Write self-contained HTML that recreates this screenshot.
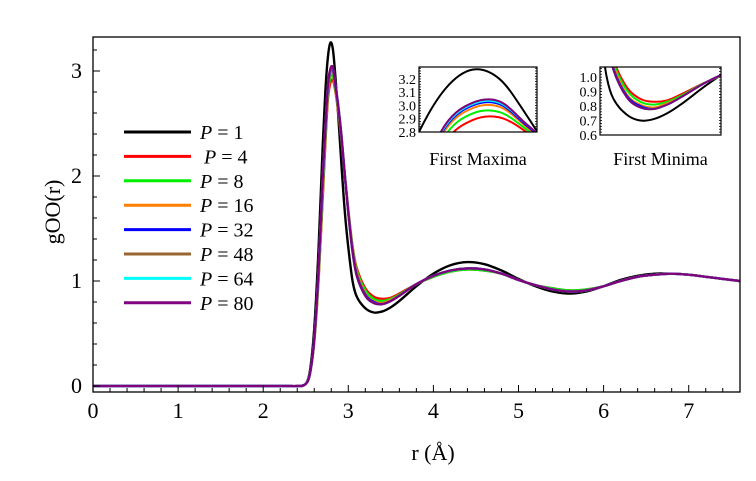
<!DOCTYPE html>
<html><head><meta charset="utf-8"><style>
body{margin:0;background:#fff}
svg text{font-family:"Liberation Serif",serif}
</style></head><body>
<svg id="c" width="756" height="476" xmlns="http://www.w3.org/2000/svg"></svg>
<script>
const rVals=[0,1,2,2.3,2.4,2.5,2.55,2.6,2.65,2.7,2.73,2.76,2.79,2.82,2.85,2.88,2.92,2.96,3.0,3.05,3.1,3.2,3.3,3.4,3.5,3.6,3.8,4.0,4.2,4.4,4.6,4.8,5.0,5.2,5.4,5.6,5.8,6.0,6.2,6.4,6.6,6.8,7.0,7.2,7.4,7.6];
const seriesNames=["P = 1","P = 4","P = 8","P = 16","P = 32","P = 48","P = 64","P = 80"];
const seriesColors=["#000000","#ff0000","#00ee00","#ff8000","#0000ff","#996633","#00ffff","#800080"];
const gP1=[0,0,0,0,0,0.02,0.15,0.55,1.3,2.3,2.8,3.13,3.27,3.20,2.93,2.6,2.1,1.65,1.32,1.0,0.85,0.74,0.70,0.71,0.75,0.81,0.95,1.07,1.15,1.18,1.16,1.10,1.02,0.95,0.90,0.88,0.90,0.95,1.01,1.05,1.07,1.07,1.06,1.04,1.02,1.0];
const gP4=[0,0,0,0,0,0.02,0.12,0.42,1.0,1.8,2.3,2.73,2.89,2.91,2.80,2.62,2.34,2.0,1.68,1.33,1.12,0.93,0.85,0.83,0.84,0.88,0.97,1.04,1.09,1.11,1.10,1.07,1.01,0.96,0.93,0.91,0.92,0.95,1.0,1.04,1.06,1.07,1.06,1.04,1.02,1.0];
const gP8=[0,0,0,0,0,0.02,0.12,0.43,1.02,1.85,2.35,2.78,2.94,2.95,2.82,2.64,2.35,2.0,1.67,1.32,1.1,0.91,0.83,0.81,0.83,0.87,0.97,1.04,1.09,1.11,1.10,1.07,1.01,0.96,0.93,0.91,0.92,0.95,1.0,1.04,1.06,1.07,1.06,1.04,1.02,1.0];
const gP16=[0,0,0,0,0,0.02,0.12,0.44,1.05,1.9,2.4,2.82,2.98,2.99,2.84,2.66,2.36,2.0,1.66,1.3,1.08,0.88,0.81,0.79,0.82,0.86,0.97,1.05,1.10,1.12,1.11,1.07,1.01,0.96,0.92,0.90,0.91,0.95,1.0,1.04,1.06,1.07,1.06,1.04,1.02,1.0];
const gP32=[0,0,0,0,0,0.02,0.12,0.45,1.08,1.95,2.43,2.84,3.0,3.01,2.85,2.67,2.37,2.0,1.65,1.29,1.06,0.87,0.80,0.78,0.81,0.86,0.97,1.05,1.10,1.12,1.11,1.07,1.01,0.96,0.92,0.90,0.91,0.95,1.0,1.04,1.06,1.07,1.06,1.04,1.02,1.0];
const gP48=[0,0,0,0,0,0.02,0.12,0.45,1.1,2.0,2.45,2.86,3.02,3.03,2.86,2.68,2.38,2.0,1.65,1.28,1.05,0.86,0.79,0.78,0.81,0.86,0.97,1.05,1.10,1.12,1.11,1.07,1.01,0.96,0.92,0.90,0.91,0.95,1.0,1.04,1.06,1.07,1.06,1.04,1.02,1.0];
const gP64=[0,0,0,0,0,0.02,0.12,0.45,1.09,1.98,2.44,2.85,3.01,3.02,2.86,2.68,2.38,2.0,1.65,1.28,1.05,0.86,0.79,0.78,0.81,0.86,0.97,1.05,1.10,1.12,1.11,1.07,1.01,0.96,0.92,0.90,0.91,0.95,1.0,1.04,1.06,1.07,1.06,1.04,1.02,1.0];
const gP80=[0,0,0,0,0,0.02,0.12,0.45,1.1,2.0,2.45,2.86,3.02,3.03,2.86,2.68,2.38,2.0,1.65,1.28,1.05,0.86,0.79,0.78,0.81,0.86,0.97,1.05,1.10,1.12,1.11,1.07,1.01,0.96,0.92,0.90,0.91,0.95,1.0,1.04,1.06,1.07,1.06,1.04,1.02,1.0];
const allSeries=[gP1,gP4,gP8,gP16,gP32,gP48,gP64,gP80];
const xTicks=[0,1,2,3,4,5,6,7];
const yTicks=[0,1,2,3];
const maxTicks=[2.8,2.9,3.0,3.1,3.2];
const minTicks=[0.6,0.7,0.8,0.9,1.0];

const NS="http://www.w3.org/2000/svg";
const svg=document.getElementById('c');
function mk(tag,attrs,parent){const e=document.createElementNS(NS,tag);for(const k in attrs)e.setAttribute(k,attrs[k]);(parent||svg).appendChild(e);return e;}
function pathFor(xs,ys){
  const p=xs.map((x,i)=>[x,ys[i]]);
  let d="M"+p[0][0].toFixed(2)+","+p[0][1].toFixed(2);
  for(let i=0;i<p.length-1;i++){
    const p0=p[Math.max(0,i-1)],p1=p[i],p2=p[i+1],p3=p[Math.min(p.length-1,i+2)];
    const h=p2[0]-p1[0];
    const s1=(p2[1]-p0[1])/((p2[0]-p0[0])||1), s2=(p3[1]-p1[1])/((p3[0]-p1[0])||1);
    const c1=[p1[0]+h/3,p1[1]+s1*h/3];
    const c2=[p2[0]-h/3,p2[1]-s2*h/3];
    d+="C"+c1.map(v=>v.toFixed(2))+" "+c2.map(v=>v.toFixed(2))+" "+p2[0].toFixed(2)+","+p2[1].toFixed(2);
  }
  return d;
}
const L=93,R=740,T=37,B=392;
const xs=r=>L+r*85.1;
const ys=g=>386-g*105;
const defs=mk('defs',{});
const cp=mk('clipPath',{id:'mainclip'},defs);mk('rect',{x:L,y:T,width:R-L,height:B-T},cp);
const g1=mk('g',{'clip-path':'url(#mainclip)'});

for(let s=0;s<allSeries.length;s++){
  const p=mk('path',{d:pathFor(rVals.map(xs),allSeries[s].map(ys)),fill:'none',stroke:seriesColors[s],'stroke-width':2.4},g1);
  
  
}
const frame=mk('rect',{x:L,y:T,width:R-L,height:B-T,fill:'none',stroke:'#000','stroke-width':1.3});

for(let v=0;v<=7.6;v+=0.2){const x=xs(v);const major=Math.abs(v-Math.round(v))<1e-6;mk('line',{x1:x,x2:x,y1:B,y2:B-(major?7:4),stroke:'#000','stroke-width':1});}
for(let v=0;v<=3.3;v+=0.2){const y=ys(v);const major=Math.abs(v-Math.round(v))<1e-6;if(y<T)continue;mk('line',{x1:L,x2:L+(major?7:4),y1:y,y2:y,stroke:'#000','stroke-width':1});}
xTicks.forEach(v=>{const t=mk('text',{x:xs(v),y:418,'text-anchor':'middle','font-size':22});t.textContent=v;});
yTicks.forEach(v=>{const t=mk('text',{x:82,y:ys(v)+7,'text-anchor':'end','font-size':22});t.textContent=v;});
let t=mk('text',{x:433,y:460,'text-anchor':'middle','font-size':22});t.textContent='r (Å)';

t=mk('text',{x:0,y:0,'text-anchor':'middle','font-size':22,transform:'translate(60,212) rotate(-90)'});t.textContent='gOO(r)';

const lg=mk('g',{});
seriesNames.forEach((n,i)=>{
  const y=132+i*24.4;
  const e=mk('g',{},lg);
  mk('line',{x1:124,x2:191,y1:y,y2:y,stroke:seriesColors[i],'stroke-width':3},e);
  const tx=mk('text',{x:i===1?204:200,y:y+7,'font-size':20},e);
  const it=mk('tspan',{'font-style':'italic'},tx);it.textContent='P';
  const rest=mk('tspan',{},tx);rest.textContent=n.slice(1);
});
function inset(name,x0,x1,y0,y1,rmin,rmax,gmin,gmax,ticks,label){
  const gx=r=>x0+(r-rmin)/(rmax-rmin)*(x1-x0);
  const gy=v=>y1-(v-gmin)/(gmax-gmin)*(y1-y0);
  const c=mk('clipPath',{id:name+'clip'},defs);mk('rect',{x:x0,y:y0,width:x1-x0,height:y1-y0},c);
  const grp=mk('g',{});
  const cg=mk('g',{'clip-path':'url(#'+name+'clip)'},grp);
  for(let s=0;s<allSeries.length;s++){
    const p=mk('path',{d:pathFor(rVals.map(gx),allSeries[s].map(gy)),fill:'none',stroke:seriesColors[s],'stroke-width':2},cg);
    
  }
  mk('rect',{x:x0,y:y0,width:x1-x0,height:y1-y0,fill:'none',stroke:'#000','stroke-width':1.2},grp);
  for(let v=gmin;v<=gmax+1e-9;v+=0.02){const y=gy(v);mk('line',{x1:x0,x2:x0+2,y1:y,y2:y,stroke:'#000','stroke-width':0.8},grp);mk('line',{x1:x1,x2:x1-2,y1:y,y2:y,stroke:'#000','stroke-width':0.8},grp);}
  ticks.forEach(v=>{const tt=mk('text',{x:x0-3,y:gy(v)+5,'text-anchor':'end','font-size':14},grp);tt.textContent=v.toFixed(1);});
  const lt=mk('text',{x:(x0+x1)/2,y:165,'text-anchor':'middle','font-size':18},grp);lt.textContent=label;
  
}
inset('first-maxima-inset',419,537,67,132,2.73,2.862,2.8,3.29,maxTicks,'First Maxima');
inset('first-minima-inset',600,721,67,135,3.0,3.9,0.6,1.07,minTicks,'First Minima');
</script>
</body></html>
